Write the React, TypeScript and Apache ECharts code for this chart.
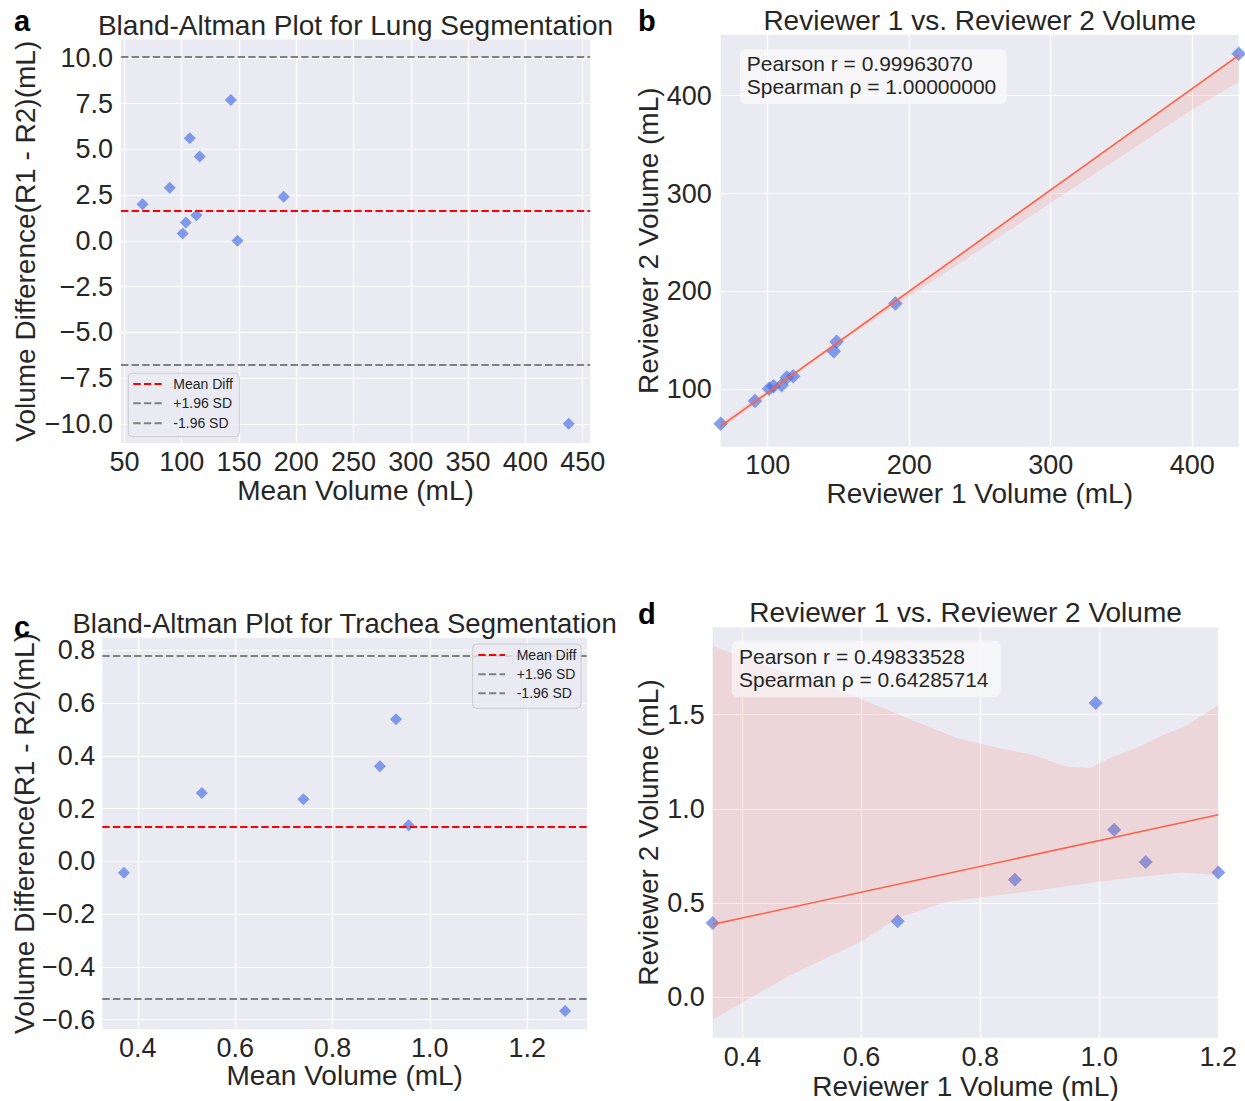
import React, { useEffect, useRef } from "react";
import * as echarts from "echarts";

// ---- data ----
// Lung volumes (mL) for the two reviewers
const lungReviewer1 = [66.8, 91.0, 101.0, 104.1, 109.8, 113.5, 118.0, 146.7, 148.7, 190.2, 432.8];
const lungReviewer2 = [64.8, 88.1, 100.6, 103.1, 104.2, 112.1, 113.4, 139.0, 148.7, 187.8, 442.8];
// Trachea volumes (mL)
const tracheaReviewer1 = [0.35, 0.661, 0.858, 0.994, 1.025, 1.078, 1.2];
const tracheaReviewer2 = [0.393, 0.402, 0.623, 1.562, 0.888, 0.717, 0.661];

// bootstrap confidence band edges
const lungBandX = [66.8, 100, 150, 200, 240, 300, 350, 400, 432.8];
const lungBandUpper = [66, 98.5, 150, 202, 243, 305, 356.5, 408.5, 443];
const lungBandLower = [59.5, 94.5, 146.5, 195, 233, 290.5, 338, 386, 414];
const tracheaBandUpperX = [0.35, 0.444, 0.557, 0.671, 0.761, 0.833, 0.889, 0.945, 0.984, 1.017, 1.067, 1.106, 1.145, 1.2];
const tracheaBandUpper = [1.865, 1.753, 1.638, 1.49, 1.375, 1.321, 1.286, 1.224, 1.215, 1.268, 1.33, 1.39, 1.44, 1.55];
const tracheaBandLowerX = [0.35, 0.416, 0.481, 0.574, 0.604, 0.66, 0.744, 0.833, 0.897, 1.0, 1.067, 1.14, 1.2];
const tracheaBandLower = [-0.12, 0.0, 0.117, 0.257, 0.303, 0.418, 0.506, 0.542, 0.567, 0.613, 0.637, 0.662, 0.648];

// tick values
const lungBATicksX = [50, 100, 150, 200, 250, 300, 350, 400, 450];
const lungBATicksY = [-10, -7.5, -5, -2.5, 0, 2.5, 5, 7.5, 10];
const lungScatterTicks = [100, 200, 300, 400];
const tracheaBATicksX = [0.4, 0.6, 0.8, 1.0, 1.2];
const tracheaBATicksY = [-0.6, -0.4, -0.2, 0, 0.2, 0.4, 0.6, 0.8];
const tracheaScatterTicksX = [0.4, 0.6, 0.8, 1.0, 1.2];
const tracheaScatterTicksY = [0, 0.5, 1.0, 1.5];

const lungStatsText = ["Pearson r = 0.99963070", "Spearman ρ = 1.00000000"];
const tracheaStatsText = ["Pearson r = 0.49833528", "Spearman ρ = 0.64285714"];
const legendLabels = ["Mean Diff", "+1.96 SD", "-1.96 SD"];

// ---- helpers ----
function blandAltman(r1: number[], r2: number[]) {
  const pts = r1.map((v, i) => [(v + r2[i]) / 2, v - r2[i]]);
  const diffs = pts.map((p) => p[1]);
  const mean = diffs.reduce((a, b) => a + b, 0) / diffs.length;
  const sd = Math.sqrt(diffs.reduce((a, b) => a + (b - mean) * (b - mean), 0) / diffs.length);
  return { pts, mean, upper: mean + 1.96 * sd, lower: mean - 1.96 * sd };
}
function regression(x: number[], y: number[]) {
  const mx = x.reduce((a, b) => a + b, 0) / x.length;
  const my = y.reduce((a, b) => a + b, 0) / y.length;
  let sxy = 0, sxx = 0;
  x.forEach((v, i) => { sxy += (v - mx) * (y[i] - my); sxx += (v - mx) * (v - mx); });
  const slope = sxy / sxx;
  return { slope, intercept: my - slope * mx };
}

const FONT = "'Liberation Sans', Arial, sans-serif";
const TEXT = "#262626";
const BG = "#EAEAF2";
const POINT = "rgba(65,105,225,0.8)";
const LINE = "#FF6347";
const BAND = "rgba(255,99,71,0.15)";
const DASH = [7.4, 3.2];

const fmt1 = (v: number) => (v < -1e-9 ? "\u2212" : "") + Math.abs(v).toFixed(1);
const fmt0 = (v: number) => String(Math.round(v));

function axis(gridIndex: number, range: number[], ticks: number[], fmt: any, name: string, nameGap: number, margin: number) {
  return {
    type: "value",
    gridIndex,
    min: range[0],
    max: range[1],
    axisLine: { show: false },
    axisTick: { show: false, customValues: ticks },
    axisLabel: { customValues: ticks, formatter: fmt, fontSize: 27, color: TEXT, fontFamily: FONT, margin },
    splitLine: { show: true, lineStyle: { color: "#FFFFFF", width: 1.2 } },
    name,
    nameLocation: "middle",
    nameGap,
    nameTextStyle: { fontSize: 28, color: TEXT, fontFamily: FONT },
  };
}

function bandSeries(idx: number, ux: number[], uy: number[], lx: number[], ly: number[]) {
  return {
    type: "custom",
    xAxisIndex: idx,
    yAxisIndex: idx,
    silent: true,
    clip: true,
    z: 3,
    data: [[ux[0], uy[0]]],
    renderItem: (_p: any, api: any) => {
      const pts: number[][] = [];
      ux.forEach((x, i) => pts.push(api.coord([x, uy[i]])));
      for (let i = lx.length - 1; i >= 0; i--) pts.push(api.coord([lx[i], ly[i]]));
      return { type: "polygon", shape: { points: pts }, style: { fill: BAND } };
    },
  };
}

function regLine(idx: number, x: number[], y: number[]) {
  const r = regression(x, y);
  const x0 = Math.min(...x), x1 = Math.max(...x);
  return {
    type: "line",
    xAxisIndex: idx,
    yAxisIndex: idx,
    silent: true,
    symbol: "none",
    z: 4,
    lineStyle: { color: LINE, width: 1.6 },
    data: [[x0, r.intercept + r.slope * x0], [x1, r.intercept + r.slope * x1]],
  };
}

function baSeries(idx: number, r1: number[], r2: number[], size: number) {
  const ba = blandAltman(r1, r2);
  return {
    type: "scatter",
    xAxisIndex: idx,
    yAxisIndex: idx,
    symbol: "diamond",
    symbolSize: size,
    itemStyle: { color: POINT },
    z: 3,
    data: ba.pts,
    markLine: {
      silent: true,
      symbol: ["none", "none"],
      label: { show: false },
      data: [
        { yAxis: ba.mean, lineStyle: { color: "#FF0000", width: 2, type: DASH } },
        { yAxis: ba.upper, lineStyle: { color: "#808080", width: 2, type: DASH } },
        { yAxis: ba.lower, lineStyle: { color: "#808080", width: 2, type: DASH } },
      ],
    },
  };
}

function scatter(idx: number, x: number[], y: number[], size: number) {
  return {
    type: "scatter",
    xAxisIndex: idx,
    yAxisIndex: idx,
    symbol: "diamond",
    symbolSize: size,
    itemStyle: { color: POINT },
    z: 2,
    data: x.map((v, i) => [v, y[i]]),
  };
}

function legendGraphic(x: number, y: number, w: number, h: number, rows: number[], lineX: number[], textX: number) {
  const colors = ["#FF0000", "#808080", "#808080"];
  const els: any[] = [
    { type: "rect", shape: { x, y, width: w, height: h, r: 4 }, style: { fill: "rgba(234,234,242,0.8)", stroke: "#CCCCCC", lineWidth: 1 }, z: 100 },
  ];
  legendLabels.forEach((t, i) => {
    els.push({ type: "line", shape: { x1: lineX[0], y1: rows[i], x2: lineX[1], y2: rows[i] }, style: { stroke: colors[i], lineWidth: 2, lineDash: DASH }, z: 101 });
    els.push({ type: "text", x: textX, y: rows[i], style: { text: t, fontSize: 14, fontFamily: FONT, fill: TEXT, verticalAlign: "middle", align: "left" }, z: 101 });
  });
  return els;
}

function statsGraphic(x: number, y: number, w: number, h: number, tx: number, rows: number[], lines: string[]) {
  const els: any[] = [
    { type: "rect", shape: { x, y, width: w, height: h, r: 6 }, style: { fill: "rgba(255,255,255,0.55)" }, z: 100 },
  ];
  lines.forEach((t, i) => {
    els.push({ type: "text", x: tx, y: rows[i], style: { text: t, fontSize: 21, fontFamily: FONT, fill: TEXT, verticalAlign: "middle", align: "left" }, z: 101 });
  });
  return els;
}

function textEl(x: number, y: number, text: string, size: number, align: string, bold = false) {
  return {
    type: "text",
    x,
    y,
    style: { text, fontSize: size, fontFamily: FONT, fill: bold ? "#000000" : TEXT, fontWeight: bold ? "bold" : "normal", align, verticalAlign: "middle" },
    z: 100,
  };
}

function buildOption() {
  const grids = [
    { left: 121, top: 39.5, width: 469, height: 403.5 },
    { left: 720.7, top: 34.7, width: 518, height: 412 },
    { left: 102.3, top: 638, width: 484.7, height: 391 },
    { left: 712.7, top: 627.3, width: 505.6, height: 410.4 },
  ].map((g) => ({ ...g, show: true, backgroundColor: BG, borderWidth: 0, containLabel: false, outerBoundsMode: "none" }));

  const lungXRange = [Math.min(...lungReviewer1), Math.max(...lungReviewer1)];
  const trachXRange = [Math.min(...tracheaReviewer1), Math.max(...tracheaReviewer1)];

  const xAxis = [
    axis(0, [47, 456.4], lungBATicksX, fmt0, "Mean Volume (mL)", 33, 5),
    axis(1, lungXRange, lungScatterTicks, fmt0, "Reviewer 1 Volume (mL)", 32, 5),
    axis(2, [0.327, 1.323], tracheaBATicksX, fmt1, "Mean Volume (mL)", 32, 5),
    axis(3, trachXRange, tracheaScatterTicksX, fmt1, "Reviewer 1 Volume (mL)", 35, 6),
  ];
  const yAxis = [
    axis(0, [-11.05, 11.0], lungBATicksY, fmt1, "Volume Difference(R1 - R2)(mL)", 82, 8),
    axis(1, [41.4, 462.3], lungScatterTicks, fmt0, "Reviewer 2 Volume (mL)", 57, 9),
    axis(2, [-0.636, 0.847], tracheaBATicksY, fmt1, "Volume Difference(R1 - R2)(mL)", 63, 7),
    axis(3, [-0.216, 1.964], tracheaScatterTicksY, fmt1, "Reviewer 2 Volume (mL)", 50, 8),
  ];

  const series = [
    baSeries(0, lungReviewer1, lungReviewer2, 12),
    scatter(1, lungReviewer1, lungReviewer2, 14.5),
    bandSeries(1, lungBandX, lungBandUpper, lungBandX, lungBandLower),
    regLine(1, lungReviewer1, lungReviewer2),
    baSeries(2, tracheaReviewer1, tracheaReviewer2, 12),
    scatter(3, tracheaReviewer1, tracheaReviewer2, 14),
    bandSeries(3, tracheaBandUpperX, tracheaBandUpper, tracheaBandLowerX, tracheaBandLower),
    regLine(3, tracheaReviewer1, tracheaReviewer2),
  ];

  const graphic = [
    textEl(14, 21, "a", 29, "left", true),
    textEl(638, 21, "b", 29, "left", true),
    textEl(14, 627, "c", 29, "left", true),
    textEl(638, 614, "d", 29, "left", true),
    textEl(355.5, 25, "Bland-Altman Plot for Lung Segmentation", 28, "center"),
    textEl(979.7, 20.2, "Reviewer 1 vs. Reviewer 2 Volume", 28, "center"),
    textEl(344.6, 623.5, "Bland-Altman Plot for Trachea Segmentation", 27.5, "center"),
    textEl(965.5, 612.8, "Reviewer 1 vs. Reviewer 2 Volume", 28, "center"),
    ...legendGraphic(128.3, 373.3, 111, 63.4, [384, 403.3, 423.3], [133.3, 161.7], 173.3),
    ...legendGraphic(472.7, 644, 108.3, 64.3, [655, 674.3, 693.3], [478.3, 505], 516.7),
    ...statsGraphic(740, 49.3, 266.7, 54.7, 746.7, [63.3, 86], lungStatsText),
    ...statsGraphic(731.7, 640.7, 269, 56.6, 739, [656, 679.3], tracheaStatsText),
  ];

  return {
    animation: false,
    backgroundColor: "#FFFFFF",
    textStyle: { fontFamily: FONT },
    grid: grids,
    xAxis,
    yAxis,
    series,
    graphic,
  };
}

export default function App() {
  const ref = useRef<HTMLDivElement>(null);
  useEffect(() => {
    if (!ref.current) return;
    const chart = echarts.init(ref.current, null, { renderer: "svg" });
    chart.setOption(buildOption() as any);
    return () => chart.dispose();
  }, []);
  return <div ref={ref} style={{ position: "fixed", left: 0, top: 0, width: 1245, height: 1101 }} />;
}
